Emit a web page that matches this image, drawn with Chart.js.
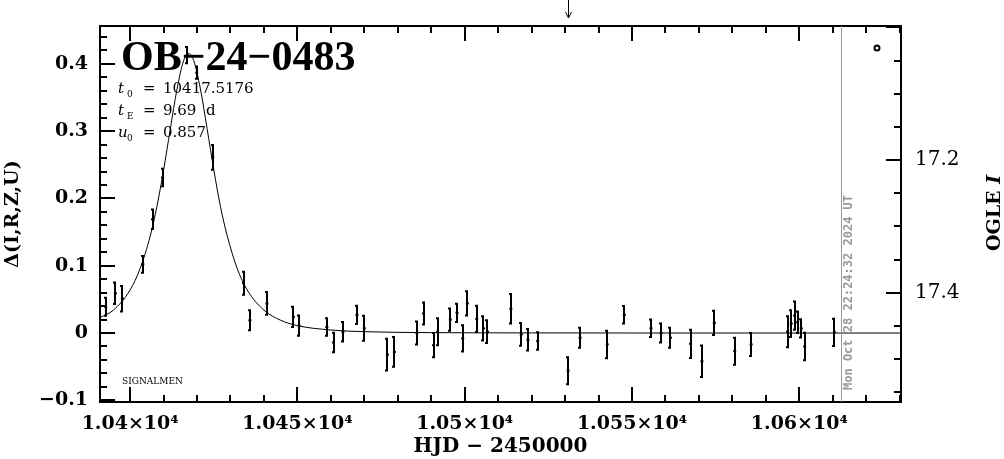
<!DOCTYPE html>
<html>
<head>
<meta charset="utf-8">
<script src="https://cdn.jsdelivr.net/npm/chart.js@4.4.0/dist/chart.umd.min.js"></script>
<style>
  html, body { margin: 0; padding: 0; background: #fff; }
</style>
</head>
<body>
<canvas id="lc" width="1004" height="459"></canvas>
<script>
// OGLE photometry (HJD - 2450000), magnitude offset and error
const hjd = [10392.7, 10395.6, 10397.7, 10403.8, 10406.7, 10409.7, 10417.1, 10419.9, 10424.7, 10433.9,
             10435.8, 10440.9, 10448.8, 10450.5, 10458.8, 10460.8, 10463.6, 10467.8, 10470.0, 10476.9,
             10479.0, 10485.7, 10487.7, 10490.7, 10491.9, 10495.7, 10497.7, 10499.4, 10500.8, 10503.6,
             10505.6, 10506.8, 10513.8, 10516.9, 10518.9, 10521.8, 10530.9, 10534.5, 10542.6, 10547.7,
             10555.7, 10558.7, 10561.5, 10567.5, 10570.9, 10574.6, 10580.7, 10585.6, 10596.5, 10597.6,
             10598.6, 10599.5, 10600.6, 10601.6, 10610.5];
const delta = [0.039, 0.059, 0.051, 0.102, 0.169, 0.231, 0.413, 0.387, 0.261, 0.074,
               0.019, 0.044, 0.024, 0.011, 0.009, -0.014, 0.002, 0.027, 0.007, -0.032,
               -0.028, 0.000, 0.029, -0.018, 0.002, 0.020, 0.030, -0.008, 0.044, 0.021,
               0.007, 0.002, 0.036, -0.002, -0.010, -0.012, -0.056, -0.007, -0.017, 0.027,
               0.007, 0.000, -0.007, -0.016, -0.042, 0.015, -0.027, -0.017, 0.002, 0.014,
               0.026, 0.016, 0.007, -0.020, 0.001];
const err = [0.0135, 0.016, 0.019, 0.0125, 0.0145, 0.013, 0.012, 0.009, 0.0185, 0.017,
             0.015, 0.017, 0.015, 0.015, 0.013, 0.0145, 0.0145, 0.0135, 0.0185, 0.0235,
             0.022, 0.017, 0.0165, 0.018, 0.020, 0.0165, 0.0135, 0.0195, 0.018, 0.0195,
             0.018, 0.017, 0.022, 0.017, 0.016, 0.013, 0.020, 0.015, 0.0205, 0.013,
             0.013, 0.014, 0.015, 0.021, 0.0235, 0.018, 0.020, 0.017, 0.023, 0.020,
             0.021, 0.016, 0.0135, 0.0205, 0.0203];

// model light curve, sampled off the plot
const modelT = [10391, 10395, 10400, 10403, 10406, 10408, 10410, 10412, 10414, 10416, 10417.5,
                10419, 10421, 10423, 10425, 10427, 10429, 10432, 10435, 10440, 10445, 10450,
                10460, 10470, 10490, 10520, 10560, 10630.4];
const modelD = [0.023, 0.034, 0.064, 0.096, 0.144, 0.188, 0.242, 0.303, 0.362, 0.405, 0.4155,
                0.405, 0.363, 0.304, 0.243, 0.188, 0.145, 0.096, 0.064, 0.034, 0.019, 0.011,
                0.0045, 0.002, 0.0006, 0.0002, 0.0, 0.0];

const xTicks = [10400, 10450, 10500, 10550, 10600];
const xTickLabels = ['1.04×10⁴', '1.045×10⁴', '1.05×10⁴', '1.055×10⁴', '1.06×10⁴'];
const yTicks = [-0.1, 0, 0.1, 0.2, 0.3, 0.4];
const yTickLabels = ['−0.1', '0', '0.1', '0.2', '0.3', '0.4'];
const magTicks = [17.2, 17.4];
const magTickLabels = ['17.2', '17.4'];

const eventName = 'OB−24−0483';
const params = [['t', '0', '10417.5176'], ['t', 'E', '9.69  d'], ['u', '0', '0.857']];
const nowT = 10612.4;
const nowText = 'Mon Oct 28 22:24:32 2024 UT';
const arrowT = 10530.8;

const SERIF = '"DejaVu Serif"';

function fixWidth(w) { return s => { s.width = w; }; }

// frame, inward ticks, error bars and annotations
const decor = {
    id: 'decor',
    afterDatasetsDraw(chart) {
        const ctx = chart.ctx, x = chart.scales.x, y = chart.scales.y;
        ctx.save();
        ctx.strokeStyle = '#000';
        ctx.lineWidth = 2;
        ctx.beginPath();
        hjd.forEach((t, i) => {
            const px = Math.round(x.getPixelForValue(t));
            const top = y.getPixelForValue(delta[i] + err[i]);
            const bot = y.getPixelForValue(delta[i] - err[i]);
            ctx.moveTo(px, top); ctx.lineTo(px, bot);
            ctx.moveTo(px - 2, top); ctx.lineTo(px + 1, top);
            ctx.moveTo(px - 2, bot); ctx.lineTo(px + 1, bot);
        });
        ctx.stroke();
        ctx.restore();
    },
    afterDraw(chart) {
        const ctx = chart.ctx, a = chart.chartArea;
        const x = chart.scales.x, y = chart.scales.y, m = chart.scales.y2;
        ctx.save();
        ctx.strokeStyle = '#000';
        ctx.fillStyle = '#000';
        ctx.lineWidth = 2;
        ctx.strokeRect(a.left, a.top, a.right - a.left, a.bottom - a.top);

        ctx.beginPath();
        for (let v = 10390; v <= 10630; v += 10) {
            if (v < x.min) continue;
            const px = Math.round(x.getPixelForValue(v));
            const len = v % 50 === 0 ? 15 : 7;
            ctx.moveTo(px, a.bottom); ctx.lineTo(px, a.bottom - len);
            ctx.moveTo(px, a.top); ctx.lineTo(px, a.top + len);
        }
        for (let k = -5; k <= 22; k++) {
            const py = Math.round(y.getPixelForValue(k * 0.02));
            const len = k % 5 === 0 ? 15 : 7;
            ctx.moveTo(a.left, py); ctx.lineTo(a.left + len, py);
        }
        for (let k = 340; k <= 351; k++) {
            const py = Math.round(m.getPixelForValue(k * 0.05));
            const len = k % 4 === 0 ? 15 : 7;
            ctx.moveTo(a.right, py); ctx.lineTo(a.right - len, py);
        }
        ctx.stroke();

        // OGLE symbol
        ctx.beginPath();
        ctx.arc(877, 48, 2.5, 0, Math.PI * 2);
        ctx.stroke();

        // current date line
        const nx = Math.round(x.getPixelForValue(nowT)) + 0.5;
        ctx.strokeStyle = '#999';
        ctx.lineWidth = 1;
        ctx.beginPath();
        ctx.moveTo(nx, a.top); ctx.lineTo(nx, a.bottom);
        ctx.stroke();
        ctx.save();
        ctx.translate(nx + 7, 390);
        ctx.rotate(-Math.PI / 2);
        ctx.fillStyle = '#999';
        ctx.font = 'bold 12px "DejaVu Sans Mono"';
        ctx.textBaseline = 'middle';
        ctx.fillText(nowText, 0, 0);
        ctx.restore();

        // arrow at the top
        const ax = Math.round(x.getPixelForValue(arrowT)) + 0.5;
        ctx.strokeStyle = '#000';
        ctx.beginPath();
        ctx.moveTo(ax, 0); ctx.lineTo(ax, 18);
        ctx.moveTo(ax - 3, 12); ctx.lineTo(ax, 18); ctx.lineTo(ax + 3, 12);
        ctx.stroke();

        // event name and parameters
        ctx.textBaseline = 'alphabetic';
        ctx.font = 'bold 42px "Liberation Serif"';
        ctx.fillText(eventName, 121, 70);
        params.forEach((p, i) => {
            const yb = 93 + i * 22;
            ctx.font = 'italic 15px ' + SERIF;
            ctx.fillText(p[0], 118, yb);
            ctx.font = '9px ' + SERIF;
            ctx.fillText(p[1], 127, yb + 4);
            ctx.font = '15px ' + SERIF;
            ctx.fillText('=', 143, yb);
            ctx.fillText(p[2], 163, yb);
        });
        ctx.font = '9px ' + SERIF;
        ctx.fillText('SIGNALMEN', 122, 384);

        // right axis title
        ctx.save();
        ctx.translate(995, 213);
        ctx.rotate(-Math.PI / 2);
        ctx.textBaseline = 'middle';
        ctx.font = 'bold 19px ' + SERIF;
        const w1 = ctx.measureText('OGLE ').width;
        ctx.font = 'bold italic 19px ' + SERIF;
        const w2 = ctx.measureText('I').width;
        ctx.font = 'bold 19px ' + SERIF;
        ctx.fillText('OGLE ', -(w1 + w2) / 2, 0);
        ctx.font = 'bold italic 19px ' + SERIF;
        ctx.fillText('I', -(w1 + w2) / 2 + w1, 0);
        ctx.restore();
        ctx.restore();
    }
};

new Chart(document.getElementById('lc'), {
    type: 'scatter',
    data: {
        datasets: [
            {
                type: 'line',
                data: modelT.map((t, i) => ({ x: t, y: modelD[i] })),
                borderColor: '#000',
                borderWidth: 1,
                pointRadius: 0,
                fill: false,
                cubicInterpolationMode: 'monotone'
            },
            {
                data: hjd.map((t, i) => ({ x: t, y: delta[i] })),
                pointStyle: 'line',
                pointRadius: 1.5,
                borderColor: '#000',
                borderWidth: 2
            }
        ]
    },
    options: {
        responsive: false,
        animation: false,
        devicePixelRatio: 1,
        layout: { padding: { top: 25, left: 0, right: 0, bottom: 0 } },
        plugins: { legend: { display: false }, tooltip: { enabled: false } },
        scales: {
            x: {
                type: 'linear',
                min: 10391,
                max: 10630.4,
                grid: { display: false, drawTicks: false },
                border: { display: false },
                afterBuildTicks: s => { s.ticks = xTicks.map(v => ({ value: v })); },
                afterFit: s => { s.height = 57; },
                ticks: {
                    callback: (v, i) => xTickLabels[i],
                    font: { family: 'DejaVu Serif', size: 19, weight: 'bold' },
                    color: '#000',
                    padding: 11,
                    maxRotation: 0,
                    autoSkip: false
                },
                title: {
                    display: true,
                    text: 'HJD − 2450000',
                    font: { family: 'DejaVu Serif', size: 20, weight: 'bold' },
                    color: '#000',
                    padding: { top: 0, bottom: 0 }
                }
            },
            y: {
                position: 'left',
                min: -0.1025,
                max: 0.4563,
                grid: { display: false, drawTicks: false },
                border: { display: false },
                afterBuildTicks: s => { s.ticks = yTicks.map(v => ({ value: v })); },
                afterFit: fixWidth(100),
                ticks: {
                    callback: (v, i) => yTickLabels[i],
                    font: { family: 'DejaVu Serif', size: 19, weight: 'bold' },
                    color: '#000',
                    padding: 12
                },
                title: {
                    display: true,
                    text: 'Δ(I,R,Z,U)',
                    font: { family: 'DejaVu Serif', size: 19, weight: 'bold' },
                    color: '#000',
                    padding: { top: 2, bottom: 0 }
                }
            },
            y2: {
                position: 'right',
                reverse: true,
                min: 16.998,
                max: 17.5645,
                grid: { display: false, drawTicks: false },
                border: { display: false },
                afterBuildTicks: s => { s.ticks = magTicks.map(v => ({ value: v })); },
                afterFit: fixWidth(103),
                ticks: {
                    callback: (v, i) => magTickLabels[i],
                    font: { family: 'DejaVu Serif', size: 20 },
                    color: '#000',
                    padding: 14
                }
            }
        }
    },
    plugins: [decor]
});
</script>
</body>
</html>
